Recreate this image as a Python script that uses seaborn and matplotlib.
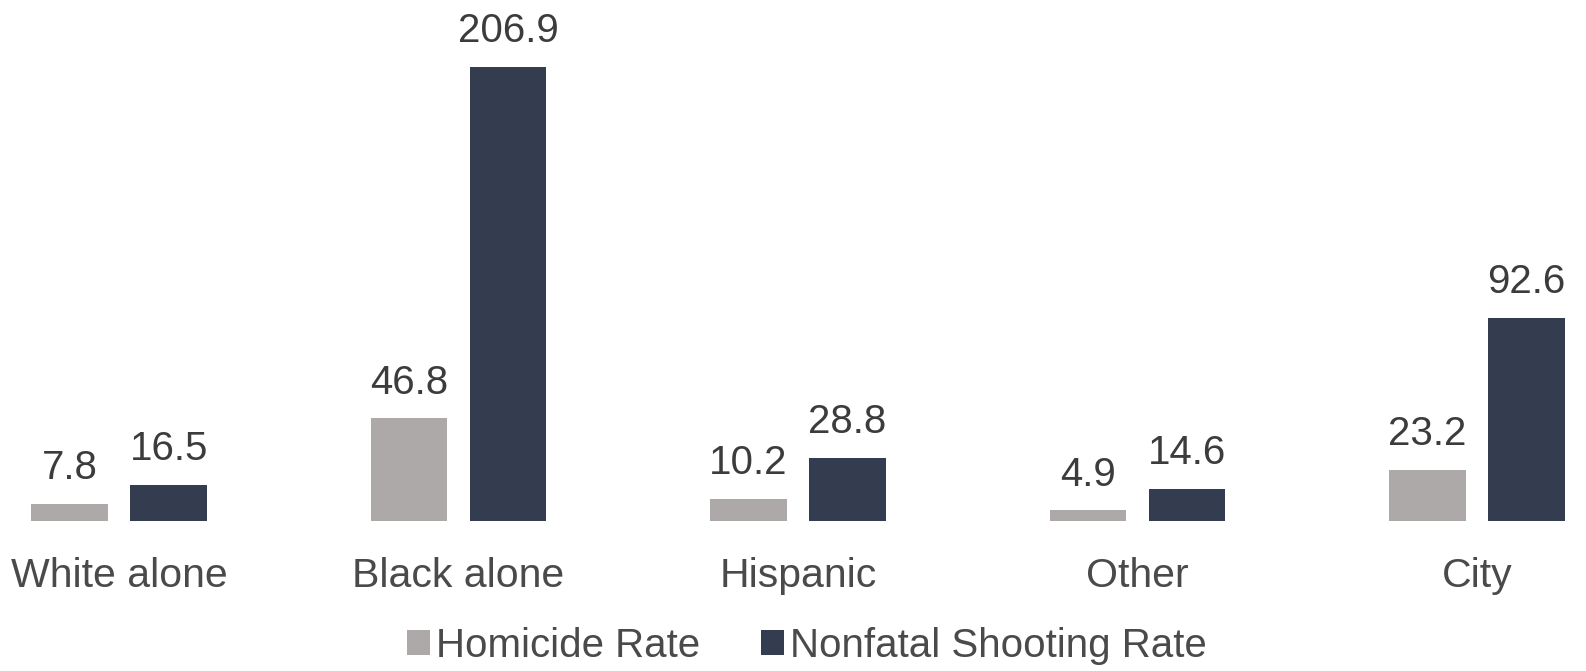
import matplotlib
matplotlib.use("Agg")
import matplotlib.pyplot as plt
from matplotlib.patches import Patch
import seaborn as sns
import pandas as pd

categories = ["White alone", "Black alone", "Hispanic", "Other", "City"]
homicide_rate = [7.8, 46.8, 10.2, 4.9, 23.2]
nonfatal_rate = [16.5, 206.9, 28.8, 14.6, 92.6]
series_names = ["Homicide Rate", "Nonfatal Shooting Rate"]
colors = ["#ADA9A8", "#333D4F"]

df = pd.DataFrame({
    "group": categories * 2,
    "value": homicide_rate + nonfatal_rate,
    "series": [series_names[0]] * len(categories) + [series_names[1]] * len(categories),
})

sns.set_theme(style="white")
plt.rcParams["font.family"] = ["Liberation Sans", "DejaVu Sans"]

fig = plt.figure(figsize=(15.86, 6.71), dpi=100)
ax = fig.add_axes([0, 150 / 671, 1, 521 / 671])

sns.barplot(data=df, x="group", y="value", hue="series", order=categories,
            hue_order=series_names, palette=colors, width=0.584, gap=0.226,
            linewidth=0, saturation=1, legend=False, ax=ax, errorbar=None)

for cont in ax.containers:
    ax.bar_label(cont, fmt="%.1f", padding=12, fontsize=29, color="#3C3C3C")

ax.set_xlim(-0.3505, 4.321)
ax.set_ylim(0, 237.4)
ax.set_xlabel("")
ax.set_ylabel("")
ax.set_yticks([])
ax.tick_params(axis="x", length=0, pad=26, labelsize=29.5, labelcolor="#4A4A4A")
for s in ax.spines.values():
    s.set_visible(False)

handles = [Patch(facecolor=c, edgecolor="none", label=n) for c, n in zip(colors, series_names)]
fig.legend(handles=handles, loc="center", bbox_to_anchor=(807 / 1586, 25 / 671),
           ncol=2, frameon=False, fontsize=29, labelcolor="#4A4A4A",
           handlelength=0.58, handleheight=0.58, handletextpad=0.15,
           columnspacing=1.5, borderpad=0, borderaxespad=0)

fig.savefig("out.png", dpi=100)
